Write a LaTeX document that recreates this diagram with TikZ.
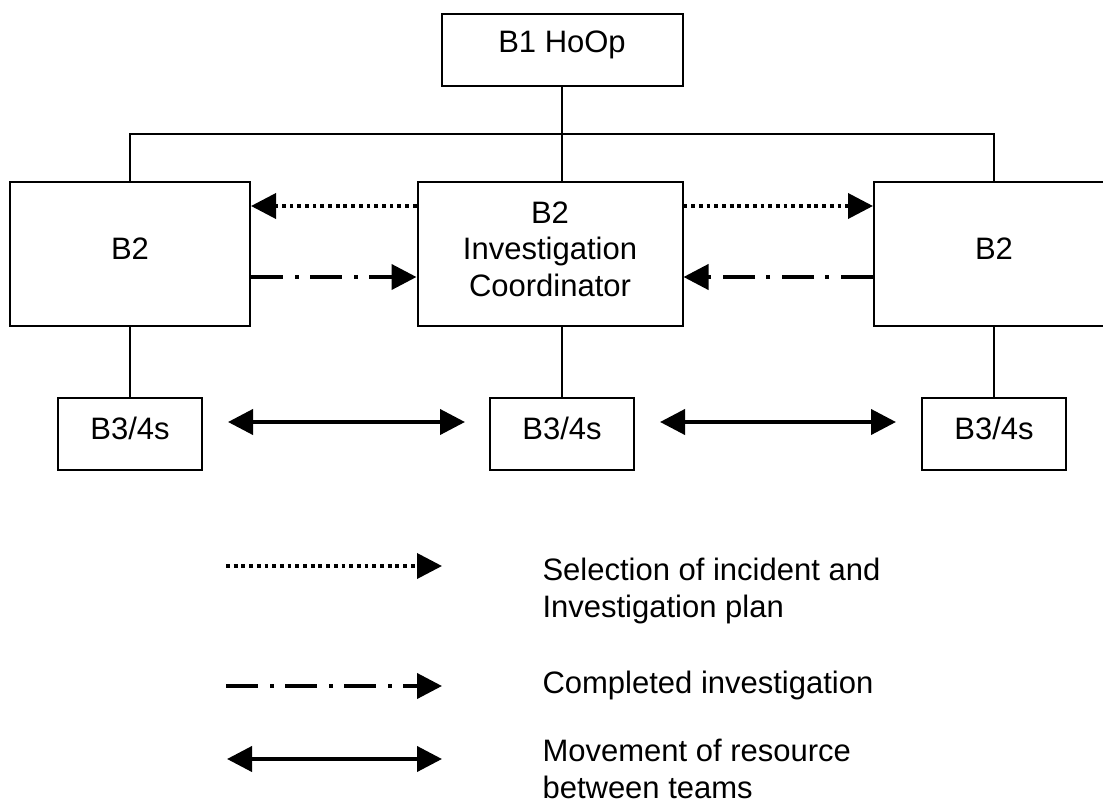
\documentclass[tikz,border=0pt]{standalone}
\usepackage{fontspec}
\setmainfont{Liberation Sans}
\usetikzlibrary{arrows.meta}

\begin{document}
\begin{tikzpicture}[x=1pt,y=-1pt,font=\fontsize{31}{36.5}\selectfont,>={Triangle[length=25pt,width=25pt]},
  caja/.style={draw,line width=2pt,inner sep=0pt},
  unlinea/.style={caja,text depth=11pt},
  jefe/.style={caja,text depth=17pt,minimum width=241pt,minimum height=72pt},
  equipo/.style={unlinea,minimum width=240pt,minimum height=144pt},
  coordinador/.style={caja,align=center,text depth=10pt,minimum width=265pt,minimum height=144pt},
  grupo/.style={unlinea,minimum width=144pt,minimum height=72pt},
  rama/.style={line width=1.6pt},
  seleccion/.style={->,line width=3.8pt,dash pattern=on 3.8pt off 3.9pt},
  completado/.style={->,line width=4pt,dash pattern=on 32pt off 12pt on 4pt off 11pt},
  movimiento/.style={<->,line width=4pt},
  leyenda/.style={anchor=west,align=left}]
  \useasboundingbox (0,0) rectangle (1103,803);
  % cajas
  \node[jefe] (b1) at (562,50) {B1 HoOp};
  \node[equipo] (b2izq) at (130,254) {B2};
  \node[coordinador] (coord) at (550,254) {B2\\Investigation\\Coordinator};
  \node[equipo] (b2der) at (994,254) {B2};
  \node[grupo] (b3izq) at (130,434) {B3/4s};
  \node[grupo] (b3cen) at (562,434) {B3/4s};
  \node[grupo] (b3der) at (994,434) {B3/4s};
  % lineas de mando
  \coordinate (bus) at (562,134);
  \draw[rama] (b1.south) -- (b1.south |- coord.north);
  \draw[rama] (b2izq.north) |- (bus) -| (b2der.north);
  \draw[rama] (b2izq.south) -- (b3izq.north);
  \draw[rama] (coord.south -| b3cen.north) -- (b3cen.north);
  \draw[rama] (b2der.south) -- (b3der.north);
  % flechas entre equipos
  \draw[seleccion] ([yshift=48pt]coord.west) -- ([yshift=48pt]b2izq.east);
  \draw[seleccion] ([yshift=48pt]coord.east) -- ([yshift=48pt]b2der.west);
  \draw[completado] ([yshift=-23pt]b2izq.east) -- ([yshift=-23pt]coord.west);
  \draw[completado] ([yshift=-23pt]b2der.west) -- ([yshift=-23pt]coord.east);
  \draw[movimiento,shorten <=25pt,shorten >=24pt] ([yshift=12pt]b3izq.east) -- ([yshift=12pt]b3cen.west);
  \draw[movimiento,shorten <=25pt,shorten >=25pt] ([yshift=12pt]b3cen.east) -- ([yshift=12pt]b3der.west);
  % leyenda
  \coordinate (sel1) at (226,566); \coordinate (sel2) at (442,566);
  \coordinate (com1) at (226,686); \coordinate (com2) at (442,686);
  \coordinate (mov1) at (227,759); \coordinate (mov2) at (442,759);
  \draw[seleccion] (sel1) -- (sel2);
  \draw[completado] (com1) -- (com2);
  \draw[movimiento] (mov1) -- (mov2);
  \node[leyenda] (tsel) at (539,591) {Selection of incident and\\Investigation plan};
  \node[leyenda] (tcom) at (539,685) {Completed investigation};
  \node[leyenda] (tmov) at (539,769) {Movement of resource\\between teams};
\end{tikzpicture}
\end{document}
